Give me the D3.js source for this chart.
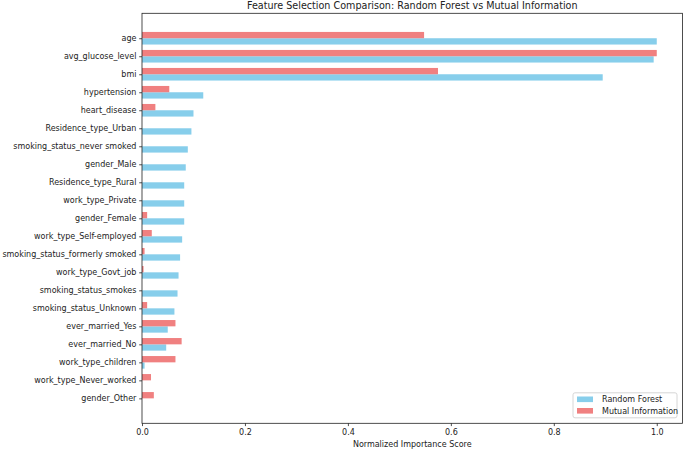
<!DOCTYPE html>
<html>
<head>
<meta charset="utf-8">
<script src="https://cdn.jsdelivr.net/npm/d3@7"></script>
<style>
  body { margin: 0; background: #fff; }
  text { font-family: "DejaVu Sans", sans-serif; fill: #222; }
</style>
</head>
<body>
<div class="chart"></div>
<script>
// feature names, top to bottom
var features = ['age', 'avg_glucose_level', 'bmi', 'hypertension', 'heart_disease',
  'Residence_type_Urban', 'smoking_status_never smoked', 'gender_Male',
  'Residence_type_Rural', 'work_type_Private', 'gender_Female',
  'work_type_Self-employed', 'smoking_status_formerly smoked', 'work_type_Govt_job',
  'smoking_status_smokes', 'smoking_status_Unknown', 'ever_married_Yes',
  'ever_married_No', 'work_type_children', 'work_type_Never_worked', 'gender_Other'];

var rfScores = [1.0, 0.994, 0.895, 0.119, 0.100, 0.096, 0.089, 0.085, 0.082, 0.082,
  0.082, 0.078, 0.074, 0.071, 0.069, 0.063, 0.050, 0.047, 0.005, 0.0, 0.0];
var miScores = [0.548, 1.0, 0.575, 0.053, 0.026, 0.0, 0.0, 0.0, 0.0, 0.0,
  0.010, 0.019, 0.005, 0.003, 0.0, 0.010, 0.065, 0.077, 0.065, 0.0175, 0.023];

var xTicks = [0.0, 0.2, 0.4, 0.6, 0.8, 1.0];

var margin = {top: 13.3, right: 2.5, bottom: 26.7, left: 142};
var fullWidth = 685;
var fullHeight = 450;
var width = fullWidth - margin.left - margin.right;
var height = fullHeight - margin.top - margin.bottom;
var barH = 0.35;

var svg = d3.select('.chart').append('svg')
  .attr('width', fullWidth)
  .attr('height', fullHeight);

svg.append('text')
  .attr('x', margin.left + width / 2)
  .attr('y', 9)
  .attr('text-anchor', 'middle')
  .style('font-size', '9.6px')
  .text('Feature Selection Comparison: Random Forest vs Mutual Information');

var g = svg.append('g')
  .attr('transform', 'translate(' + margin.left + ',' + margin.top + ')');

var xScale = d3.scaleLinear()
  .domain([0, 1.05])
  .range([0, width]);

var yScale = d3.scaleLinear()
  .domain([-0.35 - 1.035, 20.35 + 1.035])
  .range([0, height]);

// Random Forest (below tick)
g.selectAll('rect.rf')
    .data(rfScores)
  .enter().append('rect')
    .attr('class', 'rf')
    .attr('x', xScale(0))
    .attr('y', function(d, i) { return yScale(i); })
    .attr('width', function(d) { return xScale(d) - xScale(0); })
    .attr('height', yScale(barH) - yScale(0))
    .attr('fill', 'skyblue');

// Mutual Information (above tick)
g.selectAll('rect.mi')
    .data(miScores)
  .enter().append('rect')
    .attr('class', 'mi')
    .attr('x', xScale(0))
    .attr('y', function(d, i) { return yScale(i - barH); })
    .attr('width', function(d) { return xScale(d) - xScale(0); })
    .attr('height', yScale(barH) - yScale(0))
    .attr('fill', 'lightcoral');

// frame
g.append('rect')
  .attr('width', width)
  .attr('height', height)
  .attr('fill', 'none')
  .attr('stroke', '#222')
  .attr('stroke-width', 0.8);

var xAxis = d3.axisBottom(xScale)
  .tickValues(xTicks)
  .tickFormat(d3.format('.1f'))
  .tickSize(2.8)
  .tickPadding(2.8);

var yAxis = d3.axisLeft(d3.scalePoint().domain(features)
    .range([yScale(0), yScale(features.length - 1)]))
  .tickSize(2.8)
  .tickPadding(2.8);

var xg = g.append('g')
  .attr('transform', 'translate(0,' + height + ')')
  .call(xAxis);
var yg = g.append('g').call(yAxis);

[xg, yg].forEach(function(a) {
  a.select('.domain').remove();
  a.selectAll('.tick line').attr('stroke', '#222').attr('stroke-width', 0.8);
  a.selectAll('.tick text').style('font-size', '8px').attr('fill', '#222');
});

svg.append('text')
  .attr('x', margin.left + width / 2)
  .attr('y', 447)
  .attr('text-anchor', 'middle')
  .style('font-size', '8px')
  .text('Normalized Importance Score');

// legend
var legend = g.append('g')
  .attr('transform', 'translate(' + (width - 109.5) + ',' + (height - 30.5) + ')');
legend.append('rect')
  .attr('width', 104)
  .attr('height', 25)
  .attr('rx', 2)
  .attr('fill', 'white')
  .attr('fill-opacity', 0.8)
  .attr('stroke', '#ccc')
  .attr('stroke-width', 0.8);

var legendItems = [
  {name: 'Random Forest', color: 'skyblue'},
  {name: 'Mutual Information', color: 'lightcoral'}
];
legendItems.forEach(function(d, i) {
  var row = legend.append('g')
    .attr('transform', 'translate(4,' + (6.5 + i * 11.5) + ')');
  row.append('rect')
    .attr('y', -2.8)
    .attr('width', 16)
    .attr('height', 5.6)
    .attr('fill', d.color);
  row.append('text')
    .attr('x', 25)
    .attr('dy', '0.35em')
    .style('font-size', '8px')
    .text(d.name);
});
</script>
</body>
</html>
